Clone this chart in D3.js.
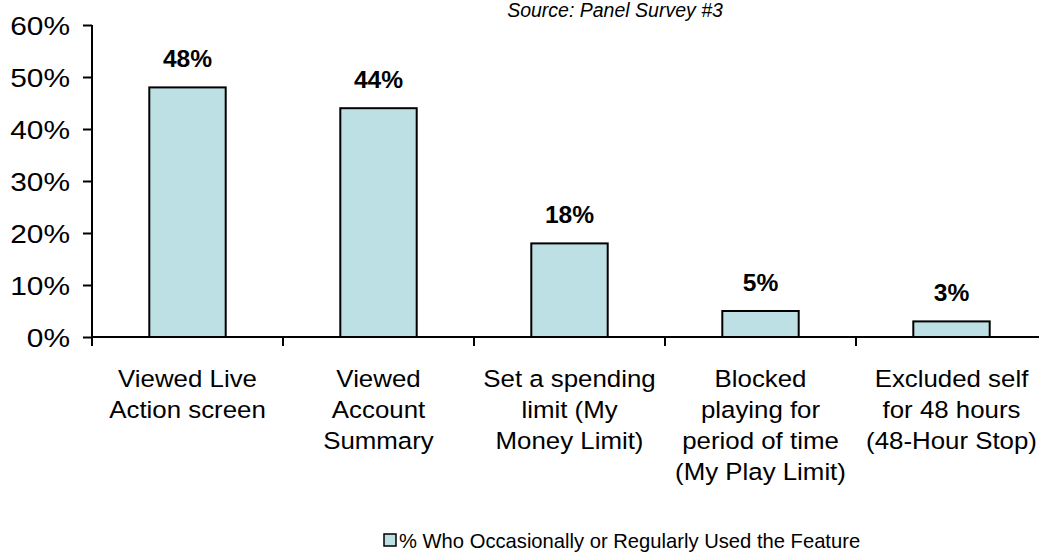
<!DOCTYPE html>
<html>
<head>
<meta charset="utf-8">
<script src="https://cdn.jsdelivr.net/npm/d3@7"></script>
<style>
  html, body { margin: 0; padding: 0; background: #fff; }
  svg { display: block; }
  text { font-family: "Liberation Sans", Arial, sans-serif; fill: #000; }
</style>
</head>
<body>
<svg id="chart" width="1039" height="552"></svg>
<script>
// Feature usage by category
const categories = [
  ["Viewed Live", "Action screen"],
  ["Viewed", "Account", "Summary"],
  ["Set a spending", "limit (My", "Money Limit)"],
  ["Blocked", "playing for", "period of time", "(My Play Limit)"],
  ["Excluded self", "for 48 hours", "(48-Hour Stop)"]
];
const values = [0.48, 0.44, 0.18, 0.05, 0.03];
const yTicks = [0, 0.1, 0.2, 0.3, 0.4, 0.5, 0.6];
const seriesName = "% Who Occasionally or Regularly Used the Feature";
const subtitle = "Source: Panel Survey #3";

const barFill = "#bce0e3";

const svg = d3.select("#chart");
const plot = { left: 92, right: 1047, top: 25, bottom: 337 };

const x = d3.scaleBand()
  .domain(d3.range(categories.length))
  .range([plot.left, plot.right])
  .paddingInner(0.6)
  .paddingOuter(0.3);

const y = d3.scaleLinear().domain([0, 0.6]).range([plot.bottom, plot.top]);

// place a text element, optionally stretched horizontally
function label(g, tx, ty, str, opts) {
  const sx = opts.stretch || 1;
  const t = g.append("text")
    .attr("transform", `translate(${tx},${ty}) scale(${sx},1)`)
    .attr("text-anchor", opts.anchor || "middle")
    .style("font-size", opts.size + "px")
    .text(str);
  if (opts.weight) t.style("font-weight", opts.weight);
  if (opts.italic) t.style("font-style", "italic");
  return t;
}

// subtitle
label(svg, 615, 17, subtitle, { size: 19.5, italic: true });

// bars
svg.append("g").selectAll("rect")
  .data(values)
  .join("rect")
  .attr("x", (d, i) => x(i))
  .attr("y", d => y(d))
  .attr("width", x.bandwidth())
  .attr("height", d => y(0) - y(d))
  .attr("fill", barFill)
  .attr("stroke", "#000")
  .attr("stroke-width", 2);

// value labels
const vl = svg.append("g");
values.forEach((v, i) => {
  label(vl, x(i) + x.bandwidth() / 2, y(v) - 20, d3.format(".0%")(v),
    { size: 23, weight: "bold", stretch: 1.07 });
});

// y axis
const yAxis = d3.axisLeft(y)
  .tickValues(yTicks)
  .tickFormat(d3.format(".0%"))
  .tickSize(9)
  .tickSizeOuter(0);
const gy = svg.append("g")
  .attr("transform", `translate(${plot.left},0)`)
  .call(yAxis);
gy.select(".domain").attr("stroke-width", 2)
  .attr("d", `M0,${plot.top}V${plot.bottom + 9}`);
gy.selectAll(".tick line").attr("stroke-width", 2);
gy.selectAll(".tick text").remove();
yTicks.forEach(t => {
  label(gy, -22, y(t) + 9.5, d3.format(".0%")(t), { size: 26, anchor: "end", stretch: 1.15 });
});

// x axis baseline and category boundary ticks
const step = x.step();
const bounds = d3.range(categories.length + 1).map(k => x(0) - x.paddingOuter() * step + k * step);
const gx = svg.append("g");
gx.append("line")
  .attr("x1", plot.left).attr("x2", plot.right + 20)
  .attr("y1", y(0)).attr("y2", y(0))
  .attr("stroke", "#000").attr("stroke-width", 2);
gx.selectAll("line.tk")
  .data(bounds.slice(1))
  .join("line")
  .attr("class", "tk")
  .attr("x1", d => d).attr("x2", d => d)
  .attr("y1", y(0)).attr("y2", y(0) + 9)
  .attr("stroke", "#000").attr("stroke-width", 2);

// category labels
const cl = svg.append("g");
categories.forEach((lines, i) => {
  lines.forEach((ln, j) => {
    label(cl, x(i) + x.bandwidth() / 2, 387 + j * 31, ln, { size: 23.5, stretch: 1.1 });
  });
});

// legend
const lg = svg.append("g");
lg.append("rect")
  .attr("x", 384).attr("y", 534)
  .attr("width", 12).attr("height", 12)
  .attr("fill", barFill)
  .attr("stroke", "#000").attr("stroke-width", 1.5);
label(lg, 399, 548, seriesName, { size: 20.2, anchor: "start" });
</script>
</body>
</html>
